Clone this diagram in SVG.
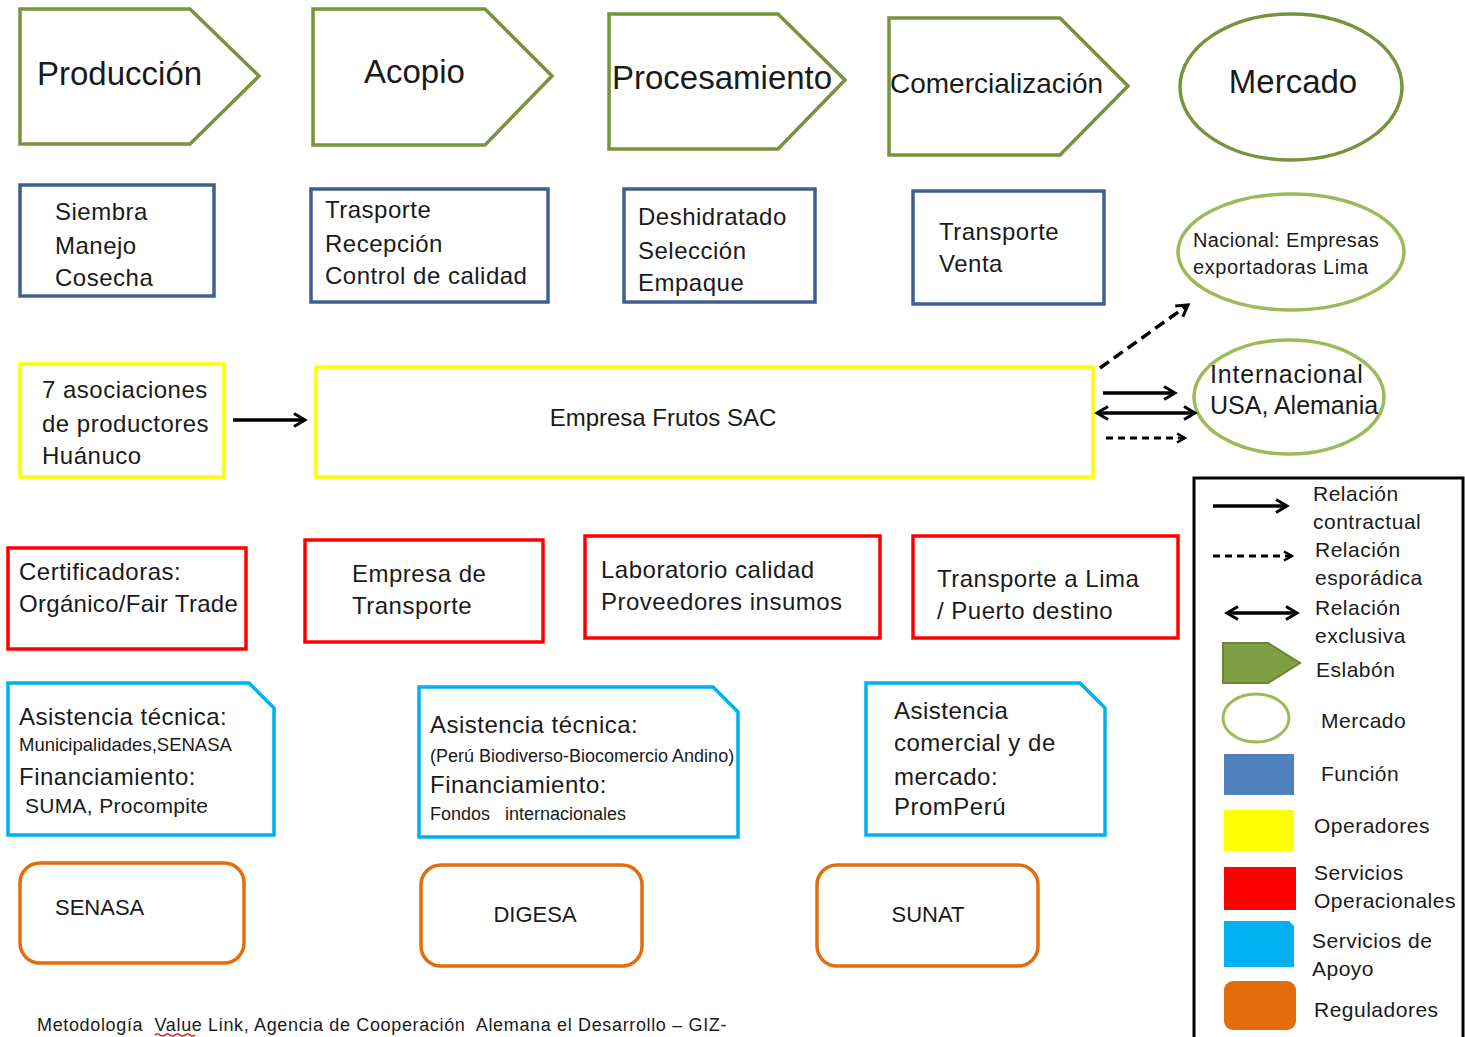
<svg xmlns="http://www.w3.org/2000/svg" width="1465" height="1037" viewBox="0 0 1465 1037">
<defs>
<style>
text{font-family:"Liberation Sans",Arial,sans-serif;fill:#1a1a1a;}
.t33{font-size:33px;}
.t24{font-size:24px;letter-spacing:0.5px;}
.t21{font-size:21px;letter-spacing:0.5px;}
.chev{fill:#fff;stroke:#77933C;stroke-width:3.5;stroke-linejoin:miter;}
.ell{fill:#fff;stroke:#9BBB59;stroke-width:3.5;}
.fun{fill:#fff;stroke:#3E5F8F;stroke-width:3.5;}
.op{fill:#fff;stroke:#FFFF00;stroke-width:3.5;}
.sop{fill:#fff;stroke:#FF0000;stroke-width:3.5;}
.sap{fill:#fff;stroke:#00B0F0;stroke-width:3.5;}
.reg{fill:#fff;stroke:#E46C0A;stroke-width:3.5;}
.ln{fill:none;stroke:#000;stroke-width:3.5;}
</style>
<marker id="ah" viewBox="0 0 16 16" refX="13" refY="8" markerWidth="16" markerHeight="16" markerUnits="userSpaceOnUse" orient="auto-start-reverse">
<path d="M2,1.5 L13,8 L2,14.5" fill="none" stroke="#000" stroke-width="3"/>
</marker>
<marker id="ahs" viewBox="0 0 12 12" refX="10" refY="6" markerWidth="12" markerHeight="12" markerUnits="userSpaceOnUse" orient="auto">
<path d="M2,1.5 L10,6 L2,10.5" fill="none" stroke="#000" stroke-width="2.5"/>
</marker>
</defs>
<rect width="1465" height="1037" fill="#fff"/>

<g id="produccion">
<path class="chev" d="M20,9 H190 L259,76 L190,144 H20 Z"/>
<text class="t33" x="37" y="85">Producción</text>
</g>
<g id="acopio">
<path class="chev" d="M313,9 H485 L552,76 L485,145 H313 Z"/>
<text class="t33" x="364" y="83">Acopio</text>
</g>
<g id="procesamiento">
<path class="chev" d="M609,14 H778 L845,80 L778,149 H609 Z"/>
<text class="t33" x="612" y="89">Procesamiento</text>
</g>
<g id="comercializacion">
<path class="chev" d="M889,18 H1060 L1128,86 L1060,155 H889 Z"/>
<text x="890" y="93" font-size="28">Comercialización</text>
</g>
<g id="mercado">
<ellipse cx="1291" cy="87" rx="111" ry="73" fill="#fff" stroke="#77933C" stroke-width="3.5"/>
<text class="t33" x="1293" y="93" text-anchor="middle">Mercado</text>
</g>

<g id="f-produccion">
<rect class="fun" x="20" y="185" width="194" height="111"/>
<text class="t24" x="55" y="220">Siembra</text>
<text class="t24" x="55" y="254">Manejo</text>
<text class="t24" x="55" y="286">Cosecha</text>
</g>
<g id="f-acopio">
<rect class="fun" x="311" y="189" width="237" height="113"/>
<text class="t24" x="325" y="218">Trasporte</text>
<text class="t24" x="325" y="252">Recepción</text>
<text class="t24" x="325" y="284">Control de calidad</text>
</g>
<g id="f-procesamiento">
<rect class="fun" x="624" y="189" width="191" height="113"/>
<text class="t24" x="638" y="225">Deshidratado</text>
<text class="t24" x="638" y="259">Selección</text>
<text class="t24" x="638" y="291">Empaque</text>
</g>
<g id="f-comercializacion">
<rect class="fun" x="913" y="191" width="191" height="113"/>
<text class="t24" x="939" y="240">Transporte</text>
<text class="t24" x="939" y="272">Venta</text>
</g>

<g id="nacional">
<ellipse class="ell" cx="1291" cy="252" rx="113" ry="58"/>
<text x="1193" y="247" font-size="20" letter-spacing="0.4">Nacional: Empresas</text>
<text x="1193" y="274" font-size="20" letter-spacing="0.6">exportadoras Lima</text>
</g>
<g id="internacional">
<ellipse class="ell" cx="1289" cy="397" rx="95" ry="57"/>
<text x="1210" y="383" font-size="25" letter-spacing="0.8">Internacional</text>
<text x="1210" y="414" font-size="25">USA, Alemania</text>
</g>

<g id="asociaciones">
<rect class="op" x="20" y="364" width="204" height="113"/>
<text class="t24" x="42" y="398">7 asociaciones</text>
<text class="t24" x="42" y="432">de productores</text>
<text class="t24" x="42" y="464">Huánuco</text>
</g>
<g id="frutos-sac">
<rect class="op" x="316" y="367" width="777" height="110"/>
<text x="663" y="426" font-size="24" text-anchor="middle">Empresa Frutos SAC</text>
</g>

<g id="certificadoras">
<rect class="sop" x="8" y="548" width="238" height="101"/>
<text class="t24" x="19" y="580">Certificadoras:</text>
<text x="19" y="612" font-size="24" letter-spacing="0.3">Orgánico/Fair Trade</text>
</g>
<g id="empresa-transporte">
<rect class="sop" x="305" y="540" width="238" height="102"/>
<text class="t24" x="352" y="582">Empresa de</text>
<text class="t24" x="352" y="614">Transporte</text>
</g>
<g id="laboratorio">
<rect class="sop" x="585" y="536" width="295" height="102"/>
<text class="t24" x="601" y="578">Laboratorio calidad</text>
<text class="t24" x="601" y="610">Proveedores insumos</text>
</g>
<g id="transporte-lima">
<rect class="sop" x="913" y="536" width="265" height="102"/>
<text class="t24" x="937" y="587">Transporte a Lima</text>
<text class="t24" x="937" y="619">/ Puerto destino</text>
</g>

<g id="apoyo-1">
<path class="sap" d="M8,683 H249 L274,708 V835 H8 Z"/>
<text class="t24" x="19" y="725">Asistencia técnica:</text>
<text x="19" y="751" font-size="18.5">Municipalidades,SENASA</text>
<text class="t24" x="19" y="785">Financiamiento:</text>
<text x="25" y="813" font-size="21" letter-spacing="0.3">SUMA, Procompite</text>
</g>
<g id="apoyo-2">
<path class="sap" d="M419,687 H713 L738,712 V837 H419 Z"/>
<text class="t24" x="430" y="733">Asistencia técnica:</text>
<text x="430" y="762" font-size="18">(Perú Biodiverso-Biocomercio Andino)</text>
<text class="t24" x="430" y="793">Financiamiento:</text>
<text x="430" y="820" font-size="18" xml:space="preserve">Fondos   internacionales</text>
</g>
<g id="apoyo-3">
<path class="sap" d="M866,683 H1080 L1105,708 V835 H866 Z"/>
<text class="t24" x="894" y="719">Asistencia</text>
<text class="t24" x="894" y="751">comercial y de</text>
<text class="t24" x="894" y="785">mercado:</text>
<text class="t24" x="894" y="815">PromPerú</text>
</g>

<g id="senasa">
<rect class="reg" x="20" y="863" width="224" height="100" rx="20"/>
<text x="55" y="915" font-size="22">SENASA</text>
</g>
<g id="digesa">
<rect class="reg" x="421" y="865" width="221" height="101" rx="20"/>
<text x="535" y="922" font-size="22" text-anchor="middle">DIGESA</text>
</g>
<g id="sunat">
<rect class="reg" x="817" y="865" width="221" height="101" rx="20"/>
<text x="928" y="922" font-size="22" text-anchor="middle">SUNAT</text>
</g>

<g id="connectors">
<line class="ln" x1="233" y1="420" x2="305" y2="420" marker-end="url(#ah)"/>
<line class="ln" x1="1100" y1="368" x2="1188" y2="305" stroke-dasharray="11 6" marker-end="url(#ah)"/>
<line class="ln" x1="1103" y1="393" x2="1175" y2="393" marker-end="url(#ah)"/>
<line class="ln" x1="1097" y1="413" x2="1195" y2="413" marker-start="url(#ah)" marker-end="url(#ah)"/>
<line x1="1106" y1="438" x2="1185" y2="438" fill="none" stroke="#000" stroke-width="3" stroke-dasharray="7 5" marker-end="url(#ahs)"/>
</g>

<g id="legend">
<rect x="1194" y="478" width="269" height="562" fill="#fff" stroke="#000" stroke-width="3"/>
<line class="ln" x1="1213" y1="506" x2="1287" y2="506" marker-end="url(#ah)"/>
<text class="t21" x="1313" y="501">Relación</text>
<text class="t21" x="1313" y="529">contractual</text>
<line x1="1213" y1="556" x2="1292" y2="556" fill="none" stroke="#000" stroke-width="3" stroke-dasharray="7 5" marker-end="url(#ahs)"/>
<text class="t21" x="1315" y="557">Relación</text>
<text class="t21" x="1315" y="585">esporádica</text>
<line class="ln" x1="1227" y1="613" x2="1297" y2="613" marker-start="url(#ah)" marker-end="url(#ah)"/>
<text class="t21" x="1315" y="615">Relación</text>
<text class="t21" x="1315" y="643">exclusiva</text>
<path d="M1223,643 H1268 L1300,663 L1268,683 H1223 Z" fill="#7F9F45" stroke="#6A8536" stroke-width="2"/>
<text class="t21" x="1316" y="677">Eslabón</text>
<ellipse cx="1256" cy="718" rx="33" ry="24" fill="#fff" stroke="#9BBB59" stroke-width="3"/>
<text class="t21" x="1321" y="728">Mercado</text>
<rect x="1224" y="754" width="70" height="41" fill="#4F81BD"/>
<text class="t21" x="1321" y="781">Función</text>
<rect x="1224" y="810" width="70" height="41" fill="#FFFF00"/>
<text class="t21" x="1314" y="833">Operadores</text>
<rect x="1224" y="867" width="72" height="43" fill="#FF0000"/>
<text class="t21" x="1314" y="880">Servicios</text>
<text class="t21" x="1314" y="908">Operacionales</text>
<path d="M1224,921 H1289 L1294,926 V967 H1224 Z" fill="#00B0F0"/>
<text class="t21" x="1312" y="948">Servicios de</text>
<text class="t21" x="1312" y="976">Apoyo</text>
<rect x="1224" y="981" width="72" height="49" rx="9" fill="#E46C0A"/>
<text class="t21" x="1314" y="1017">Reguladores</text>
</g>

<g id="footer">
<text x="37" y="1031" font-size="18" letter-spacing="0.65" xml:space="preserve">Metodología  Value Link, Agencia de Cooperación  Alemana el Desarrollo – GIZ-</text>
<path d="M155,1035 q2.5,-2.5 5,0 t5,0 t5,0 t5,0 t5,0 t5,0 t5,0 t5,0" fill="none" stroke="#E00000" stroke-width="1.2"/>
</g>
</svg>
